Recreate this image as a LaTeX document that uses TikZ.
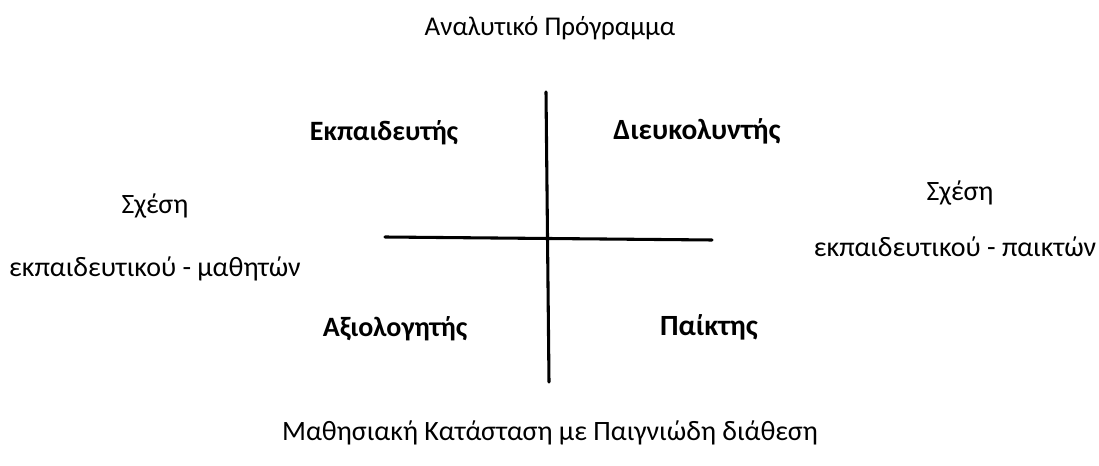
\documentclass[tikz,border=0pt]{standalone}
\usepackage{fontspec}
\setmainfont{Carlito}
\usepackage{tikz}
\tikzset{
  every picture/.style={line join=round, line cap=round},
  role/.style={font=\bfseries\fontsize{21}{25}\selectfont},
  plain/.style={font=\fontsize{21}{25}\selectfont},
  axis/.style={line width=2.3pt},
}

\begin{document}
\begin{tikzpicture}[x=0.75pt,y=-0.75pt]
\useasboundingbox (0,0) rectangle (1099,466);
% axes
\coordinate (top) at (546,92); \coordinate (bot) at (549,382);
\coordinate (lft) at (385,237); \coordinate (rgt) at (712,240);
\draw[axis] (top) -- (bot);
\draw[axis] (lft) -- (rgt);
% titles
\node[plain,font=\fontsize{20.3}{24}\selectfont] (curr) at (550,28) {Αναλυτικό Πρόγραμμα};
\node[plain] (sit) at (550,433) {Μαθησιακή Κατάσταση με Παιγνιώδη διάθεση};
% roles
\node[role] (teach) at (384,133) {Εκπαιδευτής};
\node[role,font=\bfseries\fontsize{22}{26}\selectfont] (facil) at (697,131) {Διευκολυντής};
\node[role] (eval) at (395,329) {Αξιολογητής};
\node[role,font=\bfseries\fontsize{22}{26}\selectfont] (play) at (709,327) {Παίκτης};
% relations
\node[plain] (relL) at (155,206) {Σχέση};
\node[plain] (relLb) at (155,269) {εκπαιδευτικού - μαθητών};
\node[plain] (relR) at (960,193) {Σχέση};
\node[plain] (relRb) at (955,247) {εκπαιδευτικού - παικτών};
\end{tikzpicture}
\end{document}
